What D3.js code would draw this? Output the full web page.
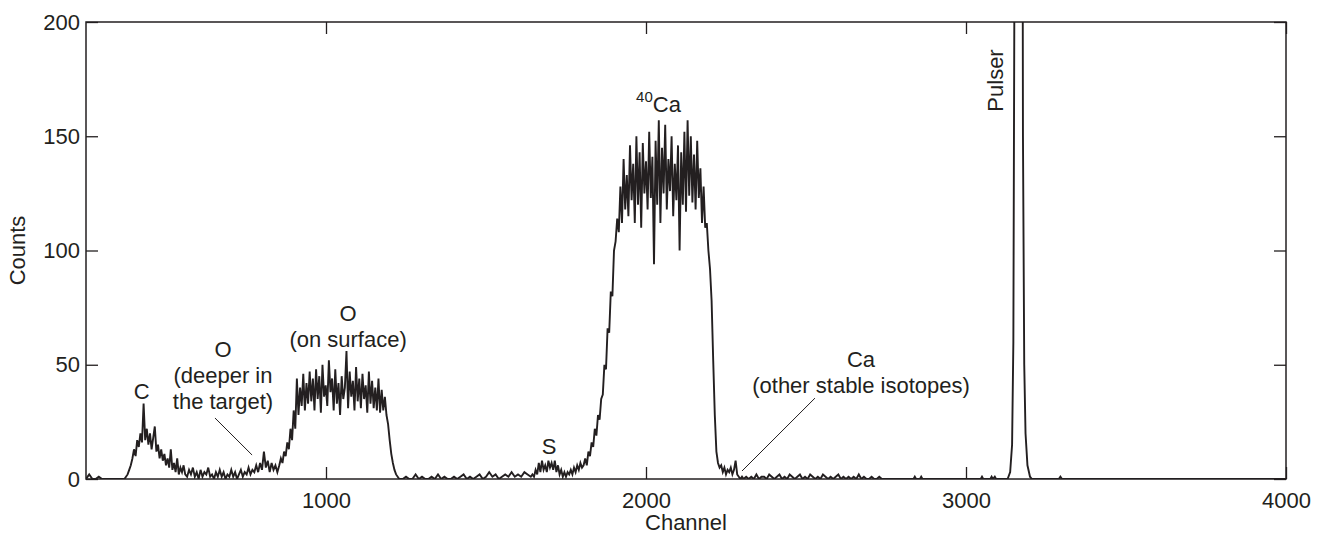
<!DOCTYPE html>
<html>
<head>
<meta charset="utf-8">
<script src="https://cdn.jsdelivr.net/npm/d3@7"></script>
<style>
  body { margin: 0; background: #fff; }
  text { font-family: "Liberation Sans", Arial, Helvetica, sans-serif; fill: #231f20; }
</style>
</head>
<body>
<script>
// spectrum, one array per region
// each region: first channel and channel step, then the counts
var lowStartCounts = [0, 2, 0, 0, 1, 0, 0, 0, 0, 0, 0, 0];            // 250.. step 10
var carbonCounts = [0, 1, 2, 4, 6, 9, 13, 10, 17, 14, 20, 16, 33, 17, 22, 15, 20, 13, 18, 23,
  12, 15, 9, 13, 8, 11, 6, 9, 5, 13, 4, 7, 3, 9, 2, 5, 3, 6, 2];              // 370.. step 5
var deepOxygenCounts = [1, 4, 2, 5, 1, 3, 0, 4, 1, 3, 2, 5, 1, 2, 0, 3, 1, 4, 1, 3,
  0, 2, 1, 4, 1, 3, 0, 2, 4, 1, 3, 2, 5, 2, 4, 3, 6, 3, 7, 4,
  12, 5, 8, 3, 7, 4, 6, 3];                                                   // 566.. step 6
var surfaceOxygenCounts = [6, 9, 7, 12, 10, 16, 13, 22, 17, 30,
  22, 44, 28, 40, 32, 46, 30, 42, 33, 47,
  34, 44, 30, 48, 35, 45, 29, 50, 36, 41,
  32, 52, 38, 44, 30, 48, 33, 42, 28, 45,
  35, 40, 56, 31, 47, 36, 43, 30, 49, 34,
  44, 31, 46, 35, 41, 29, 47, 33, 43, 31,
  40, 30, 44, 29, 39, 30, 36, 28, 24, 17,
  11, 7, 4, 2, 1, 0];                                                         // 854.. step 5
var gapCounts = [0, 1, 0, 0, 2, 0, 1, 0, 0, 1, 0, 2, 0, 1, 0, 0, 1, 0, 1, 2,
  0, 1, 0, 1, 2, 0, 1, 3, 1, 2, 0, 1, 2, 1, 3, 1, 2, 1, 3, 2];                // 1240.. step 10
var sulfurCounts = [1, 2, 1, 4, 2, 7, 3, 8, 4, 6, 3, 8, 5, 7, 4, 8, 3, 6, 2, 4,
  1, 3, 1, 3, 2, 4, 2, 5, 3, 6, 4, 7, 5];                                     // 1640.. step 5
var calciumCounts = [6, 9, 6, 12, 10, 16, 14, 22, 19, 28,
  26, 35, 37, 50, 48, 66, 64, 82, 80, 100,
  104, 114, 108, 128, 112, 140, 118, 133, 115, 146,
  122, 138, 112, 150, 120, 143, 110, 147, 125, 139,
  118, 152, 123, 141, 94, 148, 120, 157, 112, 145,
  125, 155, 118, 140, 126, 150, 115, 138, 122, 146,
  100, 143, 120, 152, 117, 157, 124, 150, 121, 142,
  118, 148, 123, 136, 112, 128, 110, 112, 100, 92,
  78, 52, 28, 12, 7, 5, 6, 3, 5, 2,
  4, 3, 5, 2, 4, 8, 2, 1, 0, 1];                                              // 1805.. step 5
var tailCounts = [0, 1, 0, 1, 0, 2, 0, 1, 1, 0, 2, 1, 0, 1, 2, 0, 1, 0, 2, 1,
  0, 1, 2, 0, 1, 0, 2, 1, 0, 1, 0, 2, 1, 0, 1, 0, 1, 2, 0, 1,
  0, 1, 0, 1, 0, 2, 0, 1, 0, 0, 1, 0, 0, 1, 0];                               // 2305.. step 8
// sparse end of the spectrum with the pulser peak (goes off scale)
var pulserChannels = [2745, 2836, 2840, 2844, 2856, 2860, 2864, 3046, 3050, 3054, 3076, 3080, 3084, 3090, 3094,
  3130, 3138, 3144, 3148, 3152, 3156, 3160, 3165, 3170, 3174, 3178, 3182, 3186, 3192, 3200, 3206,
  3290, 3295, 3300, 4000];
var pulserCounts = [0, 0, 1, 0, 0, 1, 0, 0, 1, 0, 0, 1, 0, 1, 0,
  0, 3, 15, 60, 250, 900, 1400, 1500, 1200, 500, 150, 50, 20, 6, 1, 0,
  0, 1, 0, 0];

var regions = [
  { start: 250, step: 10, counts: lowStartCounts },
  { start: 370, step: 5, counts: carbonCounts },
  { start: 566, step: 6, counts: deepOxygenCounts },
  { start: 854, step: 5, counts: surfaceOxygenCounts },
  { start: 1240, step: 10, counts: gapCounts },
  { start: 1640, step: 5, counts: sulfurCounts },
  { start: 1805, step: 5, counts: calciumCounts },
  { start: 2305, step: 8, counts: tailCounts }
];

var xTicks = [1000, 2000, 3000, 4000];
var yTicks = [0, 50, 100, 150, 200];

// annotations: [channel, counts] of the text baseline
var labels = [
  { text: 'C', ch: 424, n: 35 },
  { text: 'O', ch: 678, n: 53.4 },
  { text: '(deeper in', ch: 678, n: 42 },
  { text: 'the target)', ch: 678, n: 30.6 },
  { text: 'O', ch: 1069, n: 69.1 },
  { text: '(on surface)', ch: 1069, n: 57.8 },
  { text: 'S', ch: 1697, n: 10.9 },
  { text: 'Ca', ch: 2672, n: 49 },
  { text: '(other stable isotopes)', ch: 2672, n: 37.6 }
];
var leaders = [
  { ch1: 653, n1: 26.7, ch2: 769, n2: 10.5 },
  { ch1: 2528, n1: 35.4, ch2: 2300, n2: 3.5 }
];

var ink = '#231f20';
var svgWidth = 1324, svgHeight = 537;
var margin = { top: 22, right: 38, bottom: 58, left: 86 };
var fontSize = 22;

var spectrum = [];
regions.forEach(function (r) {
  r.counts.forEach(function (c, i) { spectrum.push({ ch: r.start + i * r.step, n: c }); });
});
pulserChannels.forEach(function (ch, i) { spectrum.push({ ch: ch, n: pulserCounts[i] }); });

var svg = d3.select('body').append('svg')
  .attr('width', svgWidth)
  .attr('height', svgHeight);

var x = d3.scaleLinear().domain([250, 4000]).range([margin.left, svgWidth - margin.right]);
var y = d3.scaleLinear().domain([0, 200]).range([svgHeight - margin.bottom, margin.top]);

svg.append('clipPath').attr('id', 'plot')
  .append('rect')
  .attr('x', x(250)).attr('y', y(200))
  .attr('width', x(4000) - x(250)).attr('height', y(0) - y(200));

// spectrum line
svg.append('path')
  .datum(spectrum)
  .attr('clip-path', 'url(#plot)')
  .attr('fill', 'none')
  .attr('stroke', ink)
  .attr('stroke-width', 1.9)
  .attr('d', d3.line().x(d => x(d.ch)).y(d => y(d.n)));

// axes, ticks point inward on all four sides
function styleAxis(g) {
  g.select('.domain').remove();
  g.selectAll('line').attr('stroke', ink).attr('stroke-width', 1.3);
  g.selectAll('text').attr('fill', ink).style('font-size', fontSize + 'px')
    .style('font-family', '"Liberation Sans", Arial, sans-serif');
}
svg.append('g')
  .attr('transform', `translate(0,${y(0)})`)
  .call(d3.axisBottom(x).tickValues(xTicks).tickSize(-12).tickPadding(13).tickFormat(d3.format('d')))
  .call(styleAxis);
svg.append('g')
  .attr('transform', `translate(0,${y(200)})`)
  .call(d3.axisTop(x).tickValues(xTicks).tickSize(-12).tickFormat(''))
  .call(styleAxis);
svg.append('g')
  .attr('transform', `translate(${x(250)},0)`)
  .call(d3.axisLeft(y).tickValues(yTicks).tickSize(-12).tickPadding(6))
  .call(styleAxis);
svg.append('g')
  .attr('transform', `translate(${x(4000)},0)`)
  .call(d3.axisRight(y).tickValues(yTicks).tickSize(-12).tickFormat(''))
  .call(styleAxis);

// frame
svg.append('rect')
  .attr('x', x(250)).attr('y', y(200))
  .attr('width', x(4000) - x(250)).attr('height', y(0) - y(200))
  .attr('fill', 'none').attr('stroke', ink).attr('stroke-width', 1.5);

// axis titles
svg.append('text')
  .attr('x', (x(250) + x(4000)) / 2).attr('y', 530)
  .attr('text-anchor', 'middle').style('font-size', fontSize + 'px')
  .text('Channel');
svg.append('text')
  .attr('transform', `translate(25,${(y(0) + y(200)) / 2}) rotate(-90)`)
  .attr('text-anchor', 'middle').style('font-size', fontSize + 'px')
  .text('Counts');

// peak labels
svg.selectAll('text.label')
  .data(labels).enter()
  .append('text').attr('class', 'label')
  .attr('x', d => x(d.ch)).attr('y', d => y(d.n))
  .attr('text-anchor', 'middle').style('font-size', fontSize + 'px')
  .text(d => d.text);

svg.selectAll('line.leader')
  .data(leaders).enter()
  .append('line').attr('class', 'leader')
  .attr('x1', d => x(d.ch1)).attr('y1', d => y(d.n1))
  .attr('x2', d => x(d.ch2)).attr('y2', d => y(d.n2))
  .attr('stroke', ink).attr('stroke-width', 1);

var caLabel = svg.append('text')
  .attr('x', x(1969)).attr('y', y(160.6))
  .style('font-size', fontSize + 'px');
caLabel.append('tspan').text('40').style('font-size', '15px').attr('dy', -10);
caLabel.append('tspan').text('Ca').attr('dy', 10);

svg.append('text')
  .attr('transform', `translate(${x(3116)},${y(174.4)}) rotate(-90)`)
  .attr('text-anchor', 'middle').style('font-size', fontSize + 'px')
  .text('Pulser');
</script>
</body>
</html>
